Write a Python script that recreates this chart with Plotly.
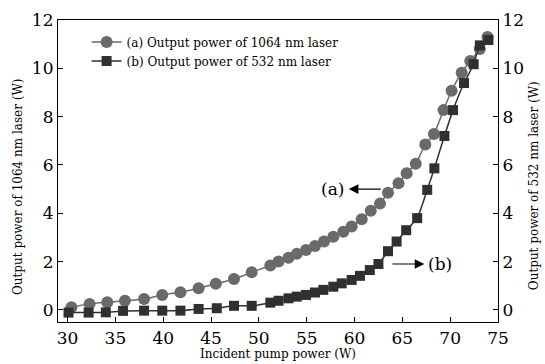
import plotly.graph_objects as go

# Incident pump power (W) and output powers (W)
pump_a = [30.4, 32.3, 34.15, 36.0, 38.0, 39.9, 41.8, 43.7, 45.5, 47.4, 49.25, 51.2,
          52.06, 53.1, 53.96, 54.93, 55.87, 56.81, 57.78, 58.83, 59.7, 60.75, 61.7,
          62.66, 63.5, 64.6, 65.45, 66.4, 67.4, 68.3, 69.3, 70.15, 71.2, 72.1, 73.1, 73.9]
power_1064 = [0.11, 0.25, 0.32, 0.38, 0.45, 0.62, 0.73, 0.9, 1.08, 1.28, 1.56, 1.84,
              2.0, 2.16, 2.32, 2.48, 2.65, 2.83, 3.03, 3.24, 3.45, 3.75, 4.1,
              4.4, 4.85, 5.24, 5.66, 6.05, 6.85, 7.28, 8.27, 9.07, 9.82, 10.3, 10.8, 11.3]

pump_b = [30.1, 32.2, 34.0, 35.8, 38.0, 39.9, 41.8, 43.7, 45.6, 47.4, 49.25, 51.2,
          52.06, 53.1, 53.96, 54.93, 55.87, 56.74, 57.78, 58.66, 59.7, 60.57, 61.6,
          62.5, 63.5, 64.4, 65.4, 66.55, 67.6, 68.35, 69.4, 70.3, 71.45, 72.45, 73.1, 74.0]
power_532 = [-0.11, -0.11, -0.1, -0.04, -0.03, -0.03, -0.03, 0.04, 0.07, 0.17, 0.17, 0.3,
             0.38, 0.48, 0.55, 0.62, 0.72, 0.83, 0.96, 1.10, 1.24, 1.41, 1.65,
             1.9, 2.43, 2.83, 3.3, 3.8, 4.97, 5.86, 7.2, 8.27, 9.39, 10.17, 10.95, 11.17]

x_ticks = [30, 35, 40, 45, 50, 55, 60, 65, 70, 75]
y_ticks = [0, 2, 4, 6, 8, 10, 12]

FONT = "DejaVu Serif"

fig = go.Figure()
fig.add_trace(go.Scatter(
    x=pump_a, y=power_1064, mode="lines+markers",
    name="(a) Output power of 1064 nm laser",
    line=dict(color="#6a6a6a", width=1.5, shape="spline", smoothing=0.6),
    marker=dict(symbol="circle", size=12, color="#6a6a6a"),
))
fig.add_trace(go.Scatter(
    x=pump_b, y=power_532, mode="lines+markers", yaxis="y2",
    name="(b) Output power of 532 nm laser",
    line=dict(color="#303030", width=1.5, shape="spline", smoothing=0.6),
    marker=dict(symbol="square", size=10, color="#303030"),
))

axis_common = dict(
    showline=True, linecolor="black", linewidth=1.2,
    ticks="inside", ticklen=5, tickcolor="black", tickwidth=1,
    showgrid=False, zeroline=False, automargin=False,
    tickfont=dict(family=FONT, size=17, color="black"),
)

fig.update_layout(
    width=545, height=364,
    margin=dict(l=58, r=47, t=20, b=42),
    paper_bgcolor="white", plot_bgcolor="white",
    font=dict(family=FONT, color="black"),
    showlegend=True,
    legend=dict(x=0.065, y=0.975, xanchor="left", yanchor="top",
                bgcolor="rgba(0,0,0,0)", font=dict(family=FONT, size=12),
                tracegroupgap=0, itemwidth=30),
    xaxis=dict(range=[29, 75], tickvals=x_ticks, mirror=True,
               title=dict(text="Incident pump power (W)", standoff=0,
                          font=dict(family=FONT, size=12)),
               **axis_common),
    yaxis=dict(range=[-0.5, 12], tickvals=y_ticks, **axis_common),
    yaxis2=dict(range=[-0.5, 12], tickvals=y_ticks, overlaying="y", side="right",
                **axis_common),
)

# axis titles placed as rotated annotations for exact positioning
fig.add_annotation(x=-0.091, y=0.45, xref="paper", yref="paper", showarrow=False,
                   text="Output power of 1064 nm laser (W)", textangle=-90,
                   xanchor="center", yanchor="middle",
                   font=dict(family=FONT, size=12, color="black"))
fig.add_annotation(x=1.082, y=0.45, xref="paper", yref="paper", showarrow=False,
                   text="Output power of 532 nm laser (W)", textangle=-90,
                   xanchor="center", yanchor="middle",
                   font=dict(family=FONT, size=12, color="black"))

fig.add_annotation(x=59.4, y=5.0, ax=62.9, ay=5.0, xref="x", yref="y", axref="x", ayref="y",
                   text="", showarrow=True, arrowhead=2, arrowsize=1.6, arrowwidth=1.2,
                   arrowcolor="black")
fig.add_annotation(x=59.1, y=5.0, xref="x", yref="y", text="(a)", showarrow=False,
                   xanchor="right", font=dict(family=FONT, size=17, color="black"))
fig.add_annotation(x=67.3, y=1.9, ax=63.8, ay=1.9, xref="x", yref="y", axref="x", ayref="y",
                   text="", showarrow=True, arrowhead=2, arrowsize=1.6, arrowwidth=1.2,
                   arrowcolor="black")
fig.add_annotation(x=67.5, y=1.9, xref="x", yref="y", text="(b)", showarrow=False,
                   xanchor="left", font=dict(family=FONT, size=17, color="black"))

fig.write_html("out.html")
